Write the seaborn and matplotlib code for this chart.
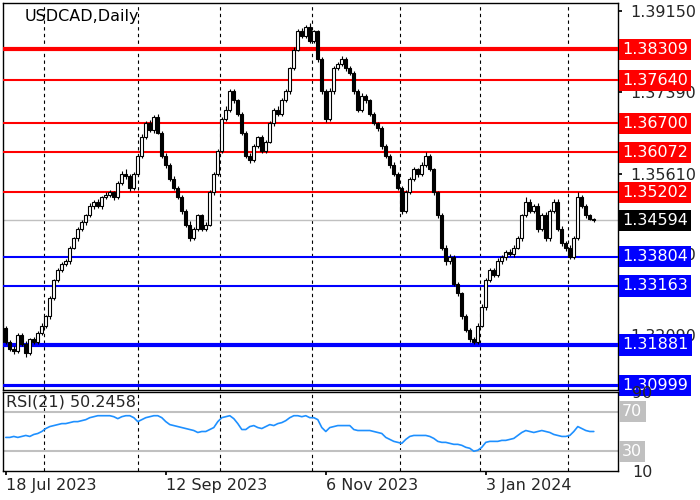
import numpy as np
import pandas as pd
import matplotlib
matplotlib.use("Agg")
import matplotlib.pyplot as plt
import seaborn as sns

closes = [1.3195,1.3180,1.3175,1.3210,1.3190,1.3170,1.3200,1.3195,1.3215,1.3230,
          1.3250,1.3290,1.3330,1.3350,1.3365,1.3370,1.3400,1.3420,1.3440,1.3455,
          1.3470,1.3490,1.3500,1.3490,1.3510,1.3515,1.3520,1.3510,1.3540,1.3560,
          1.3555,1.3530,1.3560,1.3600,1.3640,1.3670,1.3655,1.3685,1.3650,1.3600,
          1.3580,1.3550,1.3530,1.3510,1.3480,1.3450,1.3420,1.3440,1.3470,1.3440,
          1.3450,1.3520,1.3560,1.3610,1.3680,1.3700,1.3740,1.3720,1.3690,1.3650,
          1.3600,1.3590,1.3620,1.3640,1.3610,1.3630,1.3670,1.3700,1.3690,1.3720,
          1.3740,1.3790,1.3830,1.3870,1.3860,1.3880,1.3850,1.3870,1.3810,1.3740,
          1.3680,1.3740,1.3790,1.3800,1.3810,1.3790,1.3780,1.3740,1.3700,1.3730,
          1.3720,1.3690,1.3670,1.3660,1.3620,1.3600,1.3580,1.3560,1.3530,1.3480,
          1.3520,1.3550,1.3570,1.3560,1.3580,1.3600,1.3570,1.3520,1.3470,1.3400,
          1.3370,1.3380,1.3320,1.3300,1.3250,1.3220,1.3200,1.3195,1.3230,1.3270,
          1.3330,1.3350,1.3340,1.3370,1.3380,1.3390,1.3385,1.3400,1.3420,1.3470,
          1.3500,1.3480,1.3490,1.3440,1.3470,1.3420,1.3480,1.3500,1.3440,1.3410,
          1.3400,1.3380,1.3420,1.3510,1.3490,1.3470,1.3462,1.3459]
first_open = 1.3225
# wick extents in pips above / below body
wick_up = [10,8,12,6,9,14,7,10,8,12, 6,9,5,10,7,12,8,6,11,9, 7,13,8,10,6,12,9,7,10,14,
           20,8,9,6,12,10,15,7,9,8, 10,6,12,8,9,7,14,10,6,8, 9,12,7,10,8,16,11,9,7,10,
           8,12,9,7,10,6,11,8,14,9, 10,7,12,9,16,10,18,8,6,9, 10,12,8,9,14,7,10,9,8,12,
           9,7,10,6,8,12,9,10,7,8, 10,9,12,8,10,14,9,7,8,10, 9,12,8,10,7,9,8,12,10,14,
           9,12,10,14,8,10,12,9,11,8, 18,10,9,12,10,16,8,9,10,12, 10,9,12,20,10,9,6,5]
wick_dn = [12,9,14,8,10,16,9,8,12,10, 9,10,8,12,7,9,10,8,12,9, 10,8,12,9,11,8,10,12,9,8,
           10,12,9,8,10,7,9,11,8,10, 12,9,10,8,14,10,12,9,8,10, 9,8,10,7,9,8,10,12,9,11,
           10,12,9,8,10,9,7,10,8,9, 8,10,9,7,8,10,9,8,12,10, 12,9,10,8,9,11,8,10,12,9,
           10,9,8,11,10,9,12,10,9,14, 10,8,9,12,10,8,9,11,10,12, 14,10,9,12,10,8,9,10,12,8,
           12,9,10,8,12,14,9,10,8,10, 9,10,8,12,9,10,11,9,10,12, 14,12,10,8,9,10,6,5]
rsi = [44,44,45,44,45,46,45,47,48,50, 53,55,56,57,58,58,59,60,60,61,
       62,64,65,66,66,66,66,65,63,65, 66,66,64,60,62,64,65,66,66,64,
       60,57,56,55,54,53,52,51,49,50, 50,52,54,60,64,65,66,63,58,52,
       52,55,56,54,53,55,57,56,58,59, 61,64,66,66,65,66,64,64,62,54,
       50,54,55,56,56,56,56,52,51,51, 51,51,50,49,48,44,42,40,39,38,
       42,45,46,46,46,46,45,43,40,39, 39,38,37,37,36,34,33,30,31,34,
       39,40,40,40,41,41,42,43,46,49, 51,50,49,50,51,50,49,47,46,45,
       45,46,50,55,53,51,50,50]
res_levels = [1.38309, 1.37640, 1.36700, 1.36072, 1.35202]
res_widths = [4, 2, 2, 2, 2]
sup_levels = [1.33804, 1.33163, 1.31881, 1.30999]
sup_widths = [2, 2, 4, 3]
current = 1.34594
axis_ticks = [1.39150, 1.37390, 1.35610, 1.33850, 1.32090]
date_ticks = [0, 40, 80, 120]
date_labels = ["18 Jul 2023", "12 Sep 2023", "6 Nov 2023", "3 Jan 2024"]
grid_bars = [9.5, 33, 53.5, 76.5, 98.5, 118.5, 140.5]

sns.set_theme(style="white")
plt.rcParams['font.family'] = ['DejaVu Sans']
FS = 11.5

n = len(closes)
idx = np.arange(n)
opens = [first_open] + closes[:-1]
df = pd.DataFrame({"i": idx, "open": opens, "close": closes})
df["hi"] = df[["open", "close"]].max(axis=1) + np.array(wick_up) * 1e-4 / 2
df["lo"] = df[["open", "close"]].min(axis=1) - np.array(wick_dn) * 1e-4 / 2
df["rsi"] = rsi

fig = plt.figure(figsize=(7, 5), dpi=100)
ax = fig.add_axes([3/700, 110/500, 615/700, 387/500])
ax2 = fig.add_axes([3/700, 29/500, 615/700, 79/500])

xl = (-0.7, 153.05)
for a in (ax, ax2):
    a.set_xlim(*xl)
    for s in a.spines.values():
        s.set_color("black"); s.set_linewidth(1)
    for g in grid_bars:
        a.axvline(g, color="black", lw=0.8, ls=(0, (3, 3)), zorder=1)

ylo, yhi = 1.3090, 1.3932
ax.set_ylim(ylo, yhi)
ax.axhline(current, color="#c0c0c0", lw=1, zorder=1)
for lv, w in zip(res_levels, res_widths):
    ax.axhline(lv, color="#ff0000", lw=w * 0.75, zorder=3)
for lv, w in zip(sup_levels, sup_widths):
    ax.axhline(lv, color="#0000ff", lw=w * 0.75, zorder=3)

up = df["close"] >= df["open"]
ax.vlines(df["i"], df["lo"], df["hi"], color="black", lw=0.8, zorder=4)
body = (df["close"] - df["open"]).abs().clip(lower=0.00006)
base = df[["open", "close"]].min(axis=1)
ax.bar(df["i"][up], body[up], bottom=base[up], width=0.7, color="white",
       edgecolor="black", linewidth=0.8, zorder=5)
ax.bar(df["i"][~up], body[~up], bottom=base[~up], width=0.7, color="black",
       edgecolor="black", linewidth=0.8, zorder=5)

ax.yaxis.tick_right()
ax.set_yticks(axis_ticks)
ax.set_yticklabels([f"{t:.5f}" for t in axis_ticks], fontsize=FS)
ax.tick_params(axis="y", direction="out", length=3, pad=6, right=True, color="black")
ax.set_xticks([])
ax.text(0.035, 0.985, "USDCAD,Daily", transform=ax.transAxes, fontsize=FS,
        va="top", ha="left", color="black")

def tag(a, y, txt, bg, fg="white"):
    a.annotate(txt, xy=(1.0, y), xycoords=("axes fraction", "data"),
               xytext=(3, 0), textcoords="offset points", ha="left", va="center",
               fontsize=FS, color=fg, zorder=10, annotation_clip=False,
               bbox=dict(boxstyle="square,pad=0.2", fc=bg, ec="none"))

for lv in res_levels:
    tag(ax, lv, f"{lv:.5f}", "#ff0000")
for lv in sup_levels:
    tag(ax, lv, f"{lv:.5f}", "#0000ff")
tag(ax, current, f"{current:.5f}", "black")

# RSI panel
ax2.set_ylim(10, 90)
ax2.axhline(70, color="#c0c0c0", lw=1.5)
ax2.axhline(30, color="#c0c0c0", lw=1.5)
sns.lineplot(data=df, x="i", y="rsi", ax=ax2, color="#1e90ff", lw=1.2)
ax2.set_xlabel(""); ax2.set_ylabel("")
ax2.yaxis.tick_right()
ax2.set_yticks([10, 90])
ax2.set_yticklabels(["10", "90"], fontsize=FS)
ax2.tick_params(axis="y", length=0, pad=10)
tag(ax2, 70, "70", "#c0c0c0")
tag(ax2, 30, "30", "#c0c0c0")
ax2.text(0.005, 0.97, f"RSI(21) {50.2458:.4f}", transform=ax2.transAxes,
         fontsize=FS, va="top", ha="left")
ax2.set_xticks(date_ticks)
ax2.set_xticklabels(date_labels, fontsize=FS, ha="left")
ax2.tick_params(axis="x", direction="out", length=3, pad=2, bottom=True, color="black")

fig.savefig("out.png", dpi=100, facecolor="white")
